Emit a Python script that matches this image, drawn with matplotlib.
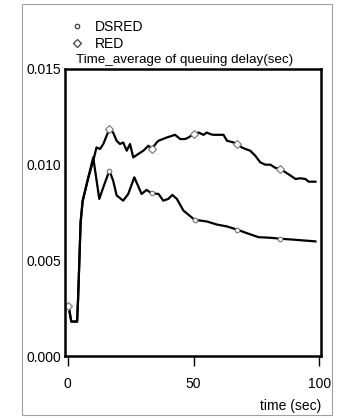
import numpy as np
import matplotlib
matplotlib.use('Agg')
import matplotlib.pyplot as plt
from matplotlib.lines import Line2D
from matplotlib.patches import Rectangle

plt.rcParams['font.family'] = ['Liberation Sans', 'DejaVu Sans']
plt.rcParams['font.size'] = 10

# RED curve (time in sec, average queuing delay in sec)
red_t = [0, 0.7, 1.5, 3.8, 4.2, 4.7, 5.2, 6.0, 8.2, 10.2, 11.5, 12.9, 14.2, 16.6,
         18.1, 19.5, 20.8, 22.1, 23.5, 24.8, 26.1, 28.1, 30.1, 32.1, 33.4, 35.4,
         36.1, 39.4, 42.7, 44.7, 46.7, 48.0, 50.0, 52.0, 54.0, 55.3, 56.6, 57.9,
         61.9, 63.3, 65.9, 67.2, 69.2, 70.6, 72.5, 74.5, 76.5, 78.5, 80.5, 82.5,
         84.5, 86.5, 88.5, 90.5, 92.4, 94.4, 95.7, 98.4]
red_y = [0.0026, 0.0024, 0.0018, 0.0018, 0.0030, 0.0050, 0.0070, 0.0081, 0.0093,
         0.0102, 0.0109, 0.01082, 0.01108, 0.01186, 0.01168, 0.01125, 0.01108,
         0.01116, 0.01073, 0.01108, 0.01038, 0.01056, 0.01073, 0.01099, 0.01082,
         0.01116, 0.01125, 0.01142, 0.01156, 0.01134, 0.01134, 0.01142, 0.0116,
         0.01168, 0.01156, 0.01168, 0.0116, 0.01156, 0.01156, 0.01125, 0.01116,
         0.01108, 0.0109, 0.01082, 0.01073, 0.01047, 0.01012, 0.0100, 0.0100,
         0.00983, 0.00978, 0.0096, 0.00943, 0.00925, 0.00929, 0.00925, 0.00911,
         0.00911]

# DSRED curve
ds_t = [0, 0.7, 1.5, 3.8, 4.2, 4.7, 5.2, 6.0, 8.0, 10.2, 12.6, 14.2, 16.6, 18.1,
        19.5, 22.1, 24.1, 26.5, 29.4, 31.4, 33.4, 36.1, 38.0, 40.0, 41.6, 43.4,
        46.0, 48.4, 50.4, 55.3, 59.3, 63.3, 67.2, 71.2, 75.8, 80.5, 84.5, 89.8, 98.4]
ds_y = [0.0026, 0.0024, 0.0018, 0.0018, 0.0030, 0.0050, 0.0070, 0.0081, 0.0092,
        0.01038, 0.00821, 0.00882, 0.00969, 0.00917, 0.00839, 0.00812, 0.00847,
        0.00934, 0.00847, 0.00868, 0.0085, 0.00847, 0.00812, 0.00821, 0.00842,
        0.00821, 0.0076, 0.00734, 0.00712, 0.00703, 0.00687, 0.00677, 0.00661,
        0.00642, 0.00621, 0.00618, 0.00613, 0.00608, 0.00599]

red_marks = [0, 16.6, 33.4, 50.0, 67.2, 84.5]
ds_marks = [0, 16.6, 33.4, 50.4, 67.2, 84.5]

W, H = 344, 418
fig = plt.figure(figsize=(W / 100, H / 100), dpi=100)
ax = fig.add_axes([65 / W, 1 - 356 / H, (321 - 65) / W, (356 - 69) / H])

mk = dict(markerfacecolor='white', markeredgecolor='#808080', markeredgewidth=0.9)
ax.plot(ds_t, ds_y, color='black', lw=1.6, marker='o', markersize=3.2,
        markevery=[ds_t.index(m) for m in ds_marks], **mk)
ax.plot(red_t, red_y, color='black', lw=1.6, marker='D', markersize=4.2,
        markevery=[red_t.index(m) for m in red_marks], **mk)

ax.set_xlim(-1.0, 100.6)
ax.set_ylim(0, 0.015)
ax.set_xticks([0, 50, 100])
ax.set_yticks([0, 0.005, 0.010, 0.015])
ax.set_yticklabels(['0.000', '0.005', '0.010', '0.015'])
ax.tick_params(axis='y', length=0, pad=3)
ax.tick_params(axis='x', length=7, width=1, direction='out', pad=8)
for s in ax.spines.values():
    s.set_linewidth(1.8)

fig.text(185 / W, 1 - 60 / H, 'Time_average of queuing delay(sec)',
         ha='center', va='center', fontsize=9.6)
fig.text(321 / W, 1 - 406 / H, 'time (sec)', ha='right', va='center')

leg_mk = dict(markerfacecolor='white', markeredgecolor='#404040', markeredgewidth=0.9)
handles = [Line2D([], [], ls='none', marker='o', markersize=3.2, **leg_mk),
           Line2D([], [], ls='none', marker='D', markersize=4.5, **leg_mk)]
fig.legend(handles, ['DSRED', 'RED'], loc='upper left',
           bbox_to_anchor=(60 / W, 1 - 13 / H), frameon=False,
           handletextpad=0.5, labelspacing=0.2, borderpad=0, handlelength=1.5)

fig.add_artist(Rectangle((22 / W, 3 / H), (332 - 22) / W, (414 - 3) / H,
                         transform=fig.transFigure, fill=False,
                         edgecolor='#a0a0a0', lw=0.8))

fig.savefig('out.png', dpi=100)
